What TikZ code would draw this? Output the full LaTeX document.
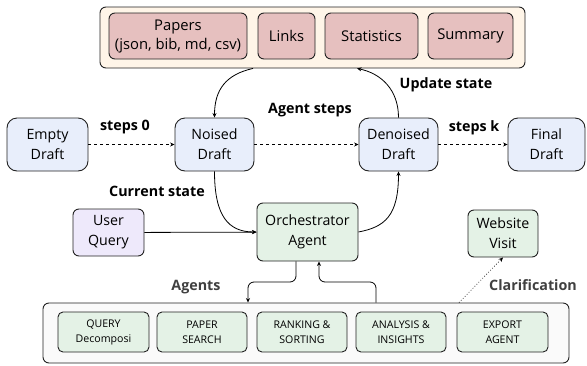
\documentclass[tikz,border=0pt]{standalone}
\usepackage{fontspec}
\setmainfont{Open Sans}
\usetikzlibrary{arrows.meta,calc}

\definecolor{draftblue}{HTML}{E8EEFB}
\definecolor{querylav}{HTML}{EEE9FB}
\definecolor{agentgreen}{HTML}{E4F2E6}
\definecolor{statepink}{HTML}{E6C0BF}
\definecolor{statecream}{HTML}{FFF5E8}
\definecolor{poolgrey}{HTML}{FAFAFA}
\definecolor{edge}{HTML}{222222}

\tikzset{
  box/.style={draw=edge, line width=0.9pt, align=center, inner sep=0pt,
    font=\fontsize{14.2}{20}\selectfont},
  draftbox/.style={box, fill=draftblue, rounded corners=10pt,
    minimum height=53pt},
  greenbox/.style={box, fill=agentgreen, rounded corners=6pt},
  pinkbox/.style={box, fill=statepink, rounded corners=6pt,
    minimum height=46pt, font=\fontsize{14.8}{19}\selectfont},
  agentbox/.style={box, fill=agentgreen, rounded corners=5pt,
    minimum width=90pt, minimum height=40pt,
    font=\fontsize{10.6}{15}\selectfont},
  container/.style={draw=edge, line width=0.9pt, rounded corners=6pt},
  lbl/.style={font=\fontsize{14.3}{16}\selectfont\bfseries, inner sep=0pt},
  link/.style={draw=black, line width=0.8pt,
    -{Stealth[length=4.5pt,width=4pt]}},
}

\begin{document}
\begin{tikzpicture}[x=1pt, y=-1pt]
\useasboundingbox (0,0) rectangle (587,365);

% shared state store
\node[container, fill=statecream, minimum width=425pt, minimum height=61pt]
  (store) at (312.5,37.5) {};
\node[pinkbox, minimum width=138pt] (papers) at (178,36)
  {Papers\\(json, bib, md, csv)};
\node[pinkbox, minimum width=57pt] (links) at (286.5,36) {Links};
\node[pinkbox, minimum width=93pt] (stats) at (371.5,36) {Statistics};
\node[pinkbox, minimum width=85pt] (summary) at (470.5,36) {Summary};

% draft chain
\node[draftbox, minimum width=81pt] (empty) at (47.5,144.5) {Empty\\Draft};
\node[draftbox, minimum width=79pt] (noised) at (214.5,144.5) {Noised\\Draft};
\node[draftbox, minimum width=79pt] (denoised) at (398.5,144.5) {Denoised\\Draft};
\node[draftbox, minimum width=77pt] (final) at (546.5,144.5) {Final\\Draft};

% query, orchestrator, website
\node[box, fill=querylav, rounded corners=6pt, minimum width=71pt,
  minimum height=47pt] (query) at (108.5,232.5) {User\\Query};
\node[greenbox, minimum width=101pt, minimum height=58pt] (orch)
  at (307.5,232) {Orchestrator\\Agent};
\node[greenbox, minimum width=70pt, minimum height=47pt] (web)
  at (503,233.5) {Website\\Visit};

% agent pool
\node[container, fill=poolgrey, minimum width=526pt, minimum height=60pt]
  (pool) at (306,333) {};
\node[agentbox, minimum width=91pt] (a1) at (103.5,332) {QUERY\\Decomposi};
\node[agentbox] (a2) at (202,332) {PAPER\\SEARCH};
\node[agentbox] (a3) at (302,332) {RANKING \&\\SORTING};
\node[agentbox] (a4) at (401,332) {ANALYSIS \&\\INSIGHTS};
\node[agentbox, minimum width=91pt] (a5) at (502.5,332) {EXPORT\\AGENT};

% attachment points on the containers
\coordinate (storeout) at ([xshift=-59.5pt]store.south);
\coordinate (storein) at ([xshift=44.5pt]store.south);
\coordinate (orchout) at ([xshift=-11.5pt]orch.south);
\coordinate (orchin) at ([xshift=11.5pt]orch.south);
\coordinate (poolin) at ([xshift=-58pt]pool.north);
\coordinate (poolout) at ([xshift=70pt]pool.north);
\coordinate (poolweb) at ([xshift=153pt]pool.north);

% draft steps
\draw[link, dashed] (empty) -- (noised);
\draw[link, dashed] (noised) -- (denoised);
\draw[link, dashed] (denoised) -- (final);

% state loop
\draw[link] (storeout) .. controls +(-27,6) and +(0,-28) .. (noised.north);
\draw[link] (denoised.north) .. controls +(0,-28) and +(24,5) .. (storein);
\draw[link] (noised.south) .. controls +(0,45) and +(-28,0) .. (orch.west);
\draw[link] (orch.east) .. controls +(26,-5) and +(0,45) .. (denoised.south);
\draw[link] (query) -- (orch);

% dispatch to agents and back
\draw[link, rounded corners=6pt] (orchout) |- ($(orchout)!0.5!(poolin)$) -| (poolin);
\draw[link, rounded corners=6pt] (poolout) |- ($(poolout)!0.5!(orchin)$) -| (orchin);
\draw[link, dotted, line width=0.6pt] (poolweb) -- (web.south);

% labels
\node[lbl] (l0) at (125,127) {steps 0};
\node[lbl] (lsteps) at (310,110) {Agent steps};
\node[lbl] (lupd) at (446,85) {Update state};
\node[lbl] (lk) at (474,128) {steps k};
\node[lbl] (lcur) at (157,191) {Current state};
\node[lbl, text=black!75] (lag) at (196,287) {Agents};
\node[lbl, text=black!75] (lcl) at (533,285) {Clarification};
\end{tikzpicture}
\end{document}
